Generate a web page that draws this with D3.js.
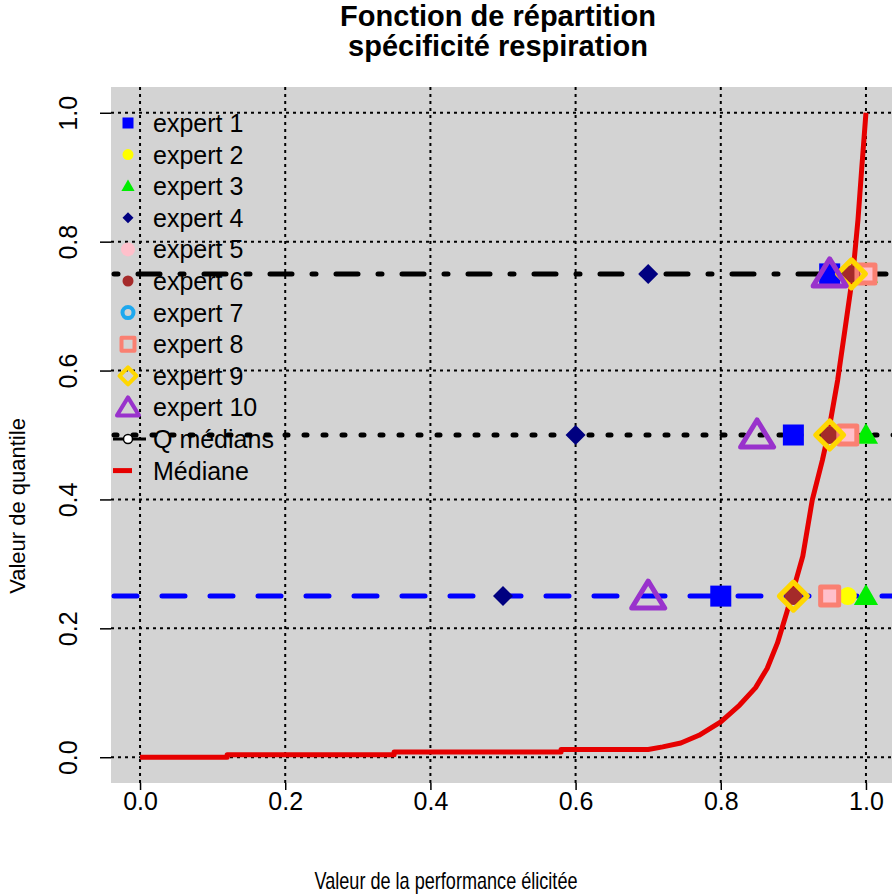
<!DOCTYPE html>
<html>
<head>
<meta charset="utf-8">
<script src="https://cdn.jsdelivr.net/npm/d3@7"></script>
<style>
  body { margin: 0; background: #fff; }
  svg { display: block; }
  text { font-family: "Liberation Sans", Arial, sans-serif; fill: #000; }
</style>
</head>
<body>
<svg id="canvas"></svg>
<script>
// quantile levels and per-expert elicited values (q25, q50, q75)
let quantiles = [0.25, 0.5, 0.75];
let experts = ['expert 1', 'expert 2', 'expert 3', 'expert 4', 'expert 5',
               'expert 6', 'expert 7', 'expert 8', 'expert 9', 'expert 10'];
let expertValues = [
    [0.80, 0.90, 0.95],
    [0.975, 0.95, 0.98],
    [1.00, 1.00, 1.00],
    [0.50, 0.60, 0.70],
    [0.95, 0.975, 1.00],
    [0.90, 0.95, 0.98],
    [0.90, 0.95, 0.98],
    [0.95, 0.975, 1.00],
    [0.90, 0.95, 0.98],
    [0.70, 0.85, 0.95]
];
let expertColors = ['#0000ff', '#ffff00', '#00ee00', '#000080', '#ffc0cb',
                    '#a52a2a', '#1ea8ee', '#fa8072', '#ffd700', '#9932cc'];
let expertShapes = ['square', 'circle', 'triangle', 'diamond', 'circle',
                    'circle', 'ring', 'osquare', 'odiamond', 'otriangle'];

// median distribution (Médiane)
let medX = [0, 0.12, 0.12, 0.35, 0.35, 0.58, 0.58, 0.70, 0.72, 0.745, 0.77, 0.80, 0.826,
            0.848, 0.864, 0.878, 0.891, 0.903, 0.913, 0.926, 0.940, 0.948, 0.961, 0.971,
            0.982, 0.989, 0.994, 1.0];
let medY = [0, 0, 0.004, 0.004, 0.008, 0.008, 0.012, 0.012, 0.016, 0.022, 0.034, 0.055, 0.081,
            0.108, 0.138, 0.177, 0.225, 0.272, 0.312, 0.399, 0.461, 0.502, 0.585, 0.663,
            0.750, 0.834, 0.911, 1.0];

let xTicks = [0, 0.2, 0.4, 0.6, 0.8, 1.0];
let yTicks = [0, 0.2, 0.4, 0.6, 0.8, 1.0];

let width = 892;
let height = 894;

let canvas = d3.select('#canvas').attr('width', width).attr('height', height);

let xScale = d3.scaleLinear().domain([-0.04, 1.04]).range([111, 895]);
let yScale = d3.scaleLinear().domain([-0.04, 1.04]).range([783, 87]);

// plot background
canvas.append('rect')
      .attr('x', xScale(-0.04)).attr('y', yScale(1.04))
      .attr('width', xScale(1.04) - xScale(-0.04))
      .attr('height', yScale(-0.04) - yScale(1.04))
      .attr('fill', '#d3d3d3');

// dotted grid
canvas.selectAll('.vgrid').data(xTicks).enter().append('line')
      .attr('x1', d => xScale(d)).attr('x2', d => xScale(d))
      .attr('y1', yScale(1.04)).attr('y2', yScale(-0.04))
      .attr('stroke', '#000').attr('stroke-width', 2).attr('stroke-dasharray', '3,4');
canvas.selectAll('.hgrid').data(yTicks).enter().append('line')
      .attr('y1', d => yScale(d)).attr('y2', d => yScale(d))
      .attr('x1', xScale(-0.04)).attr('x2', xScale(1.04))
      .attr('stroke', '#000').attr('stroke-width', 2).attr('stroke-dasharray', '3,4');

// quantile reference lines
let qStyles = [
    { color: '#0000ff', dash: '23,25' },
    { color: '#000', dash: '3,16' },
    { color: '#000', dash: '4,20,22,20' }
];
canvas.selectAll('.qline').data(quantiles).enter().append('line')
      .attr('x1', xScale(-0.04) + 3).attr('x2', xScale(1.04))
      .attr('y1', d => yScale(d)).attr('y2', d => yScale(d))
      .attr('stroke', (d, i) => qStyles[i].color)
      .attr('stroke-width', 5)
      .attr('stroke-linecap', 'round')
      .attr('stroke-dasharray', (d, i) => qStyles[i].dash);

// median curve
let medPoints = medX.map((x, i) => [x, medY[i]]);
canvas.append('path')
      .datum(medPoints)
      .attr('d', d3.line().x(d => xScale(d[0])).y(d => yScale(d[1])))
      .attr('fill', 'none')
      .attr('stroke', '#e60000')
      .attr('stroke-width', 5)
      .attr('stroke-linejoin', 'round');

// marker drawing helper
let drawMarker = (g, shape, color, s, lw) => {
    if (shape === 'square') {
        g.append('rect').attr('x', -s / 2).attr('y', -s / 2).attr('width', s).attr('height', s)
         .attr('fill', color);
    } else if (shape === 'circle') {
        g.append('circle').attr('r', s / 2).attr('fill', color);
    } else if (shape === 'ring') {
        g.append('circle').attr('r', s / 2 - lw / 2).attr('fill', 'none')
         .attr('stroke', color).attr('stroke-width', lw);
    } else if (shape === 'triangle') {
        g.append('path').attr('d', `M0,${-s * 0.55}L${s * 0.55},${s * 0.4}L${-s * 0.55},${s * 0.4}Z`)
         .attr('fill', color);
    } else if (shape === 'diamond') {
        g.append('path').attr('d', `M0,${-s / 2}L${s / 2},0L0,${s / 2}L${-s / 2},0Z`)
         .attr('fill', color);
    } else if (shape === 'osquare') {
        g.append('rect').attr('x', -s / 2).attr('y', -s / 2).attr('width', s).attr('height', s)
         .attr('fill', 'none').attr('stroke', color).attr('stroke-width', lw)
         .attr('stroke-linejoin', 'round');
    } else if (shape === 'odiamond') {
        g.append('path').attr('d', `M0,${-s / 2}L${s / 2},0L0,${s / 2}L${-s / 2},0Z`)
         .attr('fill', 'none').attr('stroke', color).attr('stroke-width', lw)
         .attr('stroke-linejoin', 'round');
    } else if (shape === 'otriangle') {
        g.append('path').attr('d', `M0,${-s * 0.5}L${s * 0.55},${s * 0.4}L${-s * 0.55},${s * 0.4}Z`)
         .attr('fill', 'none').attr('stroke', color).attr('stroke-width', lw)
         .attr('stroke-linejoin', 'round');
    }
};

let plotSizes = { square: 21, circle: 18, ring: 12, triangle: 22, diamond: 20,
                  osquare: 18, odiamond: 28, otriangle: 30 };
let pinkSize = 20;

let drawOrder = [0, 1, 2, 3, 4, 6, 5, 7, 8, 9];
drawOrder.forEach(e => {
    expertValues[e].forEach((v, qi) => {
        let g = canvas.append('g')
                      .attr('transform', 'translate(' + xScale(v) + ',' + yScale(quantiles[qi]) + ')');
        let size = e === 4 ? pinkSize : plotSizes[expertShapes[e]];
        drawMarker(g, expertShapes[e], expertColors[e], size, 5);
    });
});

// axes
let xAxis = d3.axisBottom(xScale).tickValues(xTicks).tickFormat(d3.format('.1f'))
              .tickSize(7).tickPadding(2);
let xg = canvas.append('g').attr('transform', 'translate(0,' + 783 + ')').call(xAxis);
xg.select('.domain').remove();
xg.selectAll('line').attr('stroke', '#000').attr('stroke-width', 1.5);
xg.selectAll('text').attr('font-size', 25).attr('fill', '#000')
  .attr('font-family', '"Liberation Sans", Arial, sans-serif');

let yAxis = d3.axisLeft(yScale).tickValues(yTicks).tickFormat(d3.format('.1f')).tickSize(11);
let yg = canvas.append('g').attr('transform', 'translate(111,0)').call(yAxis);
yg.select('.domain').remove();
yg.selectAll('line').attr('stroke', '#000').attr('stroke-width', 1.5);
yg.selectAll('text')
  .attr('x', null).attr('dy', null)
  .attr('transform', 'translate(-43,0) rotate(-90)')
  .attr('text-anchor', 'middle').attr('dominant-baseline', 'central')
  .attr('font-size', 25).attr('fill', '#000')
  .attr('font-family', '"Liberation Sans", Arial, sans-serif');

// titles
canvas.append('text').attr('x', 498).attr('y', 26).attr('text-anchor', 'middle')
      .attr('font-size', 29).attr('font-weight', 'bold').text('Fonction de répartition');
canvas.append('text').attr('x', 498).attr('y', 56).attr('text-anchor', 'middle')
      .attr('font-size', 29).attr('font-weight', 'bold').text('spécificité respiration');
canvas.append('text').attr('x', 446).attr('y', 889).attr('text-anchor', 'middle')
      .attr('font-size', 24)
      .attr('textLength', 263).attr('lengthAdjust', 'spacingAndGlyphs')
      .text('Valeur de la performance élicitée');
canvas.append('text').attr('transform', 'translate(25,506) rotate(-90)').attr('text-anchor', 'middle')
      .attr('font-size', 22)
      .text('Valeur de quantile');

// legend
let legendSizes = { square: 11, circle: 11, ring: 15, triangle: 12, diamond: 11,
                    osquare: 13, odiamond: 17, otriangle: 20 };
let legendY0 = 123;
let legendStep = 31.6;
experts.forEach((name, i) => {
    let y = legendY0 + i * legendStep;
    let g = canvas.append('g').attr('transform', 'translate(128,' + y + ')');
    let size = i === 4 ? 14 : legendSizes[expertShapes[i]];
    drawMarker(g, expertShapes[i], expertColors[i], size, 4);
    canvas.append('text').attr('x', 153).attr('y', y + 9).attr('font-size', 25).text(name);
});
let yQ = legendY0 + 10 * legendStep;
canvas.append('line').attr('x1', 113).attr('x2', 146).attr('y1', yQ).attr('y2', yQ)
      .attr('stroke', '#000').attr('stroke-width', 3);
canvas.append('circle').attr('cx', 128).attr('cy', yQ).attr('r', 4.5)
      .attr('fill', '#fff').attr('stroke', '#000').attr('stroke-width', 1.5);
canvas.append('text').attr('x', 153).attr('y', yQ + 9).attr('font-size', 25).text('Q médians');
let yM = legendY0 + 11 * legendStep;
canvas.append('line').attr('x1', 113).attr('x2', 132).attr('y1', yM).attr('y2', yM)
      .attr('stroke', '#e60000').attr('stroke-width', 5);
canvas.append('text').attr('x', 153).attr('y', yM + 9).attr('font-size', 25).text('Médiane');
</script>
</body>
</html>
